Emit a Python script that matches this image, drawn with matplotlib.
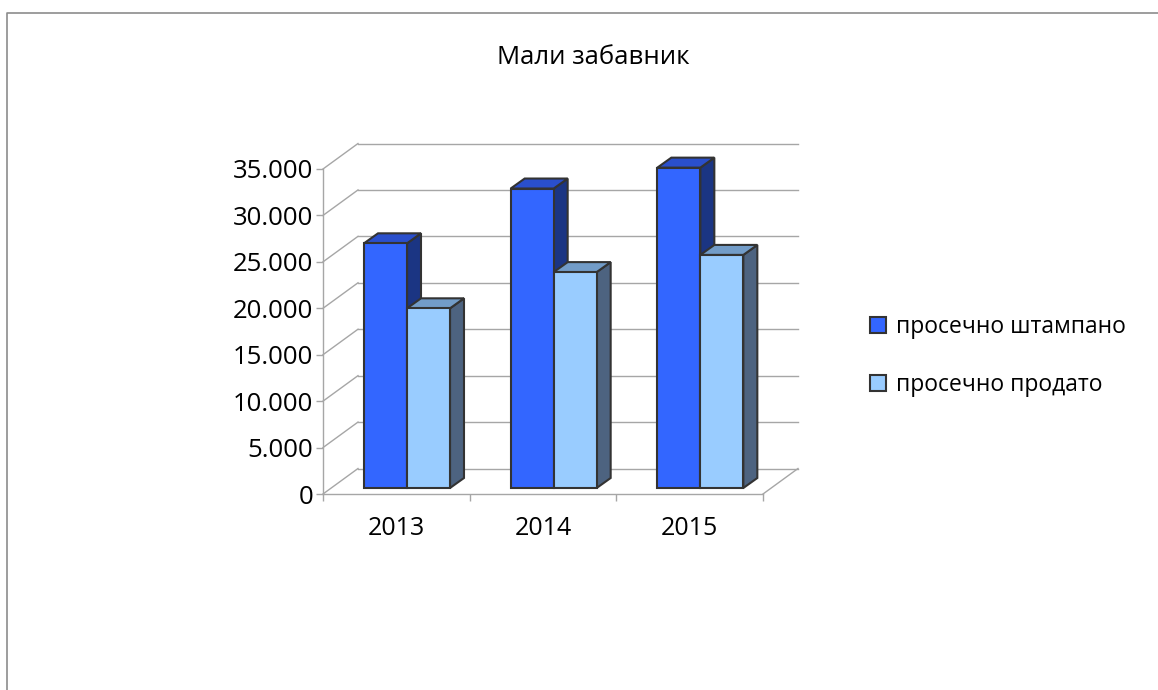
import matplotlib
matplotlib.use("Agg")
import matplotlib.pyplot as plt
from matplotlib.patches import Polygon
from matplotlib.lines import Line2D
from matplotlib.ticker import FuncFormatter, FixedLocator

plt.rcParams['font.family'] = ['Open Sans', 'DejaVu Sans']

# ---- data ----
title = "Мали забавник"
years = ["2013", "2014", "2015"]
series_names = ["просечно штампано", "просечно продато"]
printed = [26350, 32250, 34500]
sold = [19350, 23250, 25100]
yticks = [0, 5000, 10000, 15000, 20000, 25000, 30000, 35000]

front_colors = ["#3366FF", "#99CCFF"]
top_colors = ["#2A4FCC", "#729CC8"]
side_colors = ["#1B3583", "#4D6380"]
edge = "#333333"
grid_col = "#A6A6A6"

W, H = 1158, 690
fig = plt.figure(figsize=(W / 100, H / 100), dpi=100)

# front plane of the plot: x 323..763 px, y 494..169 px
ax_l, ax_r, ax_b, ax_t = 323, 763, 494, 169
ax = fig.add_axes([ax_l / W, 1 - ax_b / H, (ax_r - ax_l) / W, (ax_b - ax_t) / H])
ax.set_xlim(0, len(years))
ax.set_ylim(0, 35000)

px_x = len(years) / (ax_r - ax_l)        # cat units per px
px_y = 35000 / (ax_b - ax_t)             # value units per px

# wall depth
WDX, WDY = 35 * px_x, 25.5 * px_y
# bar placement
BDX0, BDY0 = 8 * px_x, 6 * px_y          # bar front offset into depth
BDX, BDY = 14 * px_x, 10 * px_y          # bar depth
bar_w = 43 * px_x
pair_off = 33 * px_x
lw_bar = 1.5

# back wall gridlines + left wall diagonals
for v in yticks:
    ax.add_line(Line2D([WDX, len(years) + WDX], [v + WDY, v + WDY], color=grid_col,
                       lw=1.0, clip_on=False, zorder=1))
    ax.add_line(Line2D([0, WDX], [v, v + WDY], color=grid_col, lw=1.0,
                       clip_on=False, zorder=1))
ax.add_line(Line2D([len(years), len(years) + WDX], [0, WDY], color=grid_col, lw=1.0,
                   clip_on=False, zorder=1))

series = [printed, sold]
containers = []
for k, vals in enumerate(series):
    xs = [i + pair_off + BDX0 + k * bar_w for i in range(len(years))]
    bc = ax.bar(xs, vals, width=bar_w, bottom=BDY0, align='edge',
                color=front_colors[k], edgecolor=edge, linewidth=lw_bar,
                label=series_names[k], clip_on=False, zorder=3 + 3 * k)
    containers.append(bc)
    for x0, v in zip(xs, vals):
        top = v + BDY0
        ax.add_patch(Polygon([(x0, top), (x0 + bar_w, top), (x0 + bar_w + BDX, top + BDY),
                              (x0 + BDX, top + BDY)], closed=True, facecolor=top_colors[k],
                             edgecolor=edge, linewidth=lw_bar, clip_on=False, zorder=2 + 3 * k,
                             joinstyle='miter'))
        ax.add_patch(Polygon([(x0 + bar_w, BDY0), (x0 + bar_w + BDX, BDY0 + BDY),
                              (x0 + bar_w + BDX, top + BDY), (x0 + bar_w, top)], closed=True,
                             facecolor=side_colors[k], edgecolor=edge, linewidth=lw_bar,
                             clip_on=False, zorder=1.5 + 3 * k, joinstyle='miter'))

# axes styling
for s in ["top", "right"]:
    ax.spines[s].set_visible(False)
for s in ["left", "bottom"]:
    ax.spines[s].set_color(grid_col)
    ax.spines[s].set_linewidth(1.0)
ax.set_facecolor("none")
ax.yaxis.set_major_locator(FixedLocator(yticks))
ax.yaxis.set_major_formatter(FuncFormatter(lambda v, p: f"{int(round(v)):,}".replace(",", ".")))
ax.tick_params(axis='y', direction='out', length=5, width=1.0, color=grid_col,
               labelsize=18.5, pad=2, labelcolor="#000000")
ax.xaxis.set_major_locator(FixedLocator(range(len(years) + 1)))
ax.xaxis.set_minor_locator(FixedLocator([i + 0.5 for i in range(len(years))]))
ax.set_xticklabels([], minor=False)
ax.set_xticklabels(years, minor=True)
ax.tick_params(axis='x', which='major', direction='out', length=5, width=1.0, color=grid_col)
ax.tick_params(axis='x', which='minor', length=0, labelsize=18, pad=16)

# title
fig.text(593 / W, 1 - 57 / H, title, ha='center', va='center', fontsize=18.5, color="#000000")

# legend
fig.legend(handles=containers, labels=series_names, loc='center left',
           bbox_to_anchor=(870 / W, 1 - 356 / H), frameon=False, fontsize=16.5,
           handlelength=0.68, handleheight=0.68, handletextpad=0.45,
           labelspacing=1.5, borderpad=0, borderaxespad=0)

# chart area border (top and left visible)
fig.add_artist(Line2D([7 / W, 7 / W, 1.0], [0.0, 1 - 12.5 / H, 1 - 12.5 / H],
                      transform=fig.transFigure, color="#8C8C8C", lw=1.2))

fig.savefig("out.png", dpi=100)
